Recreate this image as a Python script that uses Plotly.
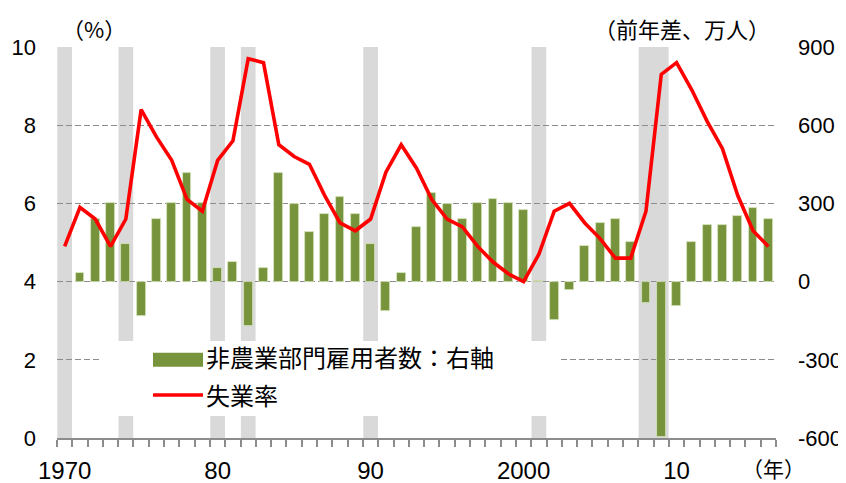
import plotly.graph_objects as go

# ---- data ----
years = list(range(1970, 2017))
unemployment_rate = [4.9, 5.9, 5.6, 4.9, 5.6, 8.4, 7.7, 7.1, 6.1, 5.8,
                     7.1, 7.6, 9.7, 9.6, 7.5, 7.2, 7.0, 6.2, 5.5, 5.3,
                     5.6, 6.8, 7.5, 6.9, 6.1, 5.6, 5.4, 4.9, 4.5, 4.2,
                     4.0, 4.7, 5.8, 6.0, 5.5, 5.1, 4.6, 4.6, 5.8, 9.3,
                     9.6, 8.9, 8.1, 7.4, 6.2, 5.3, 4.9]
payroll_change = [None, 32, 240, 303, 145, -132, 240, 303, 418, 303,
                  52, 74, -169, 52, 418, 296, 189, 261, 325, 261,
                  145, -112, 32, 209, 339, 296, 239, 303, 317, 303,
                  275, 2, -147, -32, 138, 225, 239, 153, -83, -598,
                  -95, 153, 217, 217, 253, 281, 239]
recession_years = [1970, 1974, 1980, 1982, 1990, 2001, 2008, 2009]
x_tick_years = [1970, 1980, 1990, 2000, 2010]
x_tick_text = ["1970", "80", "90", "2000", "10"]
left_ticks = [0, 2, 4, 6, 8, 10]
right_ticks = [-600, -300, 0, 300, 600, 900]
right_tick_text = ["-600", "-300", "0", "300", "600", "900"]
bar_name = "非農業部門雇用者数：右軸"
line_name = "失業率"

GREEN = "#77933C"
RED = "#FF0000"
GRID = "#8C8C8C"
BAND = "#D9D9D9"
LATIN = "Liberation Sans, Arial, sans-serif"
CJK = "Noto Sans CJK JP, sans-serif"

fig = go.Figure()

fig.add_trace(go.Bar(
    x=years, y=payroll_change, yaxis="y", name=bar_name,
    marker=dict(color=GREEN, line=dict(color="#D7E4BD", width=0.8)),
    width=0.58, showlegend=False,
))
fig.add_trace(go.Scatter(
    x=years, y=unemployment_rate, yaxis="y2", name=line_name,
    mode="lines", line=dict(color=RED, width=3.6), showlegend=False,
))

# recession shading: merge consecutive recession years into one band
spans = []
for yr in sorted(recession_years):
    if spans and yr == spans[-1][1] + 1:
        spans[-1][1] = yr
    else:
        spans.append([yr, yr])
for start, end in spans:
    fig.add_shape(type="rect", xref="x", yref="paper",
                  x0=start - 0.48, x1=end + 0.48, y0=0, y1=1,
                  fillcolor=BAND, line=dict(width=0), layer="between")

# custom legend (white box, swatches, labels)
fig.add_shape(type="rect", xref="paper", yref="paper",
              x0=0.0584, x1=0.6968, y0=0.0563, y1=0.2481,
              fillcolor="white", line=dict(width=0), layer="above")
fig.add_shape(type="rect", xref="paper", yref="paper",
              x0=0.1335, x1=0.2031, y0=0.1823, y1=0.2182,
              fillcolor=GREEN, line=dict(width=0), layer="above")
fig.add_shape(type="line", xref="paper", yref="paper",
              x0=0.1335, x1=0.2031, y0=0.11, y1=0.11,
              line=dict(color=RED, width=3.6), layer="above")
fig.add_annotation(text=bar_name, xref="paper", yref="paper",
                   x=0.205, y=0.2072, xanchor="left", yanchor="middle",
                   showarrow=False, font=dict(family=CJK, size=24, color="black"))
fig.add_annotation(text=line_name, xref="paper", yref="paper",
                   x=0.205, y=0.11, xanchor="left", yanchor="middle",
                   showarrow=False, font=dict(family=CJK, size=24, color="black"))

# axis titles
fig.add_annotation(text="（%）", xref="paper", yref="paper",
                   x=0.0515, y=1.0486, xanchor="center", yanchor="middle",
                   showarrow=False, font=dict(family=CJK, size=22, color="black"))
fig.add_annotation(text="（前年差、万人）", xref="paper", yref="paper",
                   x=0.869, y=1.0486, xanchor="center", yanchor="middle",
                   showarrow=False, font=dict(family=CJK, size=22, color="black"))
fig.add_annotation(text="（年）", xref="paper", yref="paper",
                   x=0.9965, y=-0.076, xanchor="center", yanchor="middle",
                   showarrow=False, font=dict(family=CJK, size=21, color="black"))

minor_vals = [y - 0.5 for y in years] + [years[-1] + 0.5]

# the page body adds an 8px offset, so the figure is 8px smaller on each side
fig.update_layout(
    width=838, height=475,
    margin=dict(l=49, r=70, t=39, b=45),
    paper_bgcolor="white", plot_bgcolor="white",
    font=dict(family=LATIN, size=22, color="black"),
    bargap=0,
    xaxis=dict(
        range=[years[0] - 0.5, years[-1] + 0.5],
        tickvals=x_tick_years, ticktext=x_tick_text,
        ticks="", showgrid=False, zeroline=False, automargin=False,
        showline=True, linecolor="#8C8C8C", linewidth=2,
        ticklabelstandoff=10,
        tickfont=dict(family=LATIN, size=24),
        minor=dict(tickvals=minor_vals, ticks="outside", ticklen=7,
                   tickwidth=1.5, tickcolor="#8C8C8C", showgrid=False),
    ),
    yaxis=dict(
        range=[right_ticks[0], right_ticks[-1]], tickvals=right_ticks,
        ticktext=right_tick_text,
        side="right", showgrid=True, gridcolor=GRID, gridwidth=1.3,
        griddash="6px,3px", zeroline=False, ticks="", automargin=False,
        ticklabelstandoff=21, tickfont=dict(family=LATIN, size=22),
    ),
    yaxis2=dict(
        range=[left_ticks[0], left_ticks[-1]], tickvals=left_ticks,
        overlaying="y", side="left", showgrid=False, zeroline=False,
        ticks="", automargin=False,
        ticklabelstandoff=20, tickfont=dict(family=LATIN, size=22),
    ),
)

fig.write_html("out.html")
